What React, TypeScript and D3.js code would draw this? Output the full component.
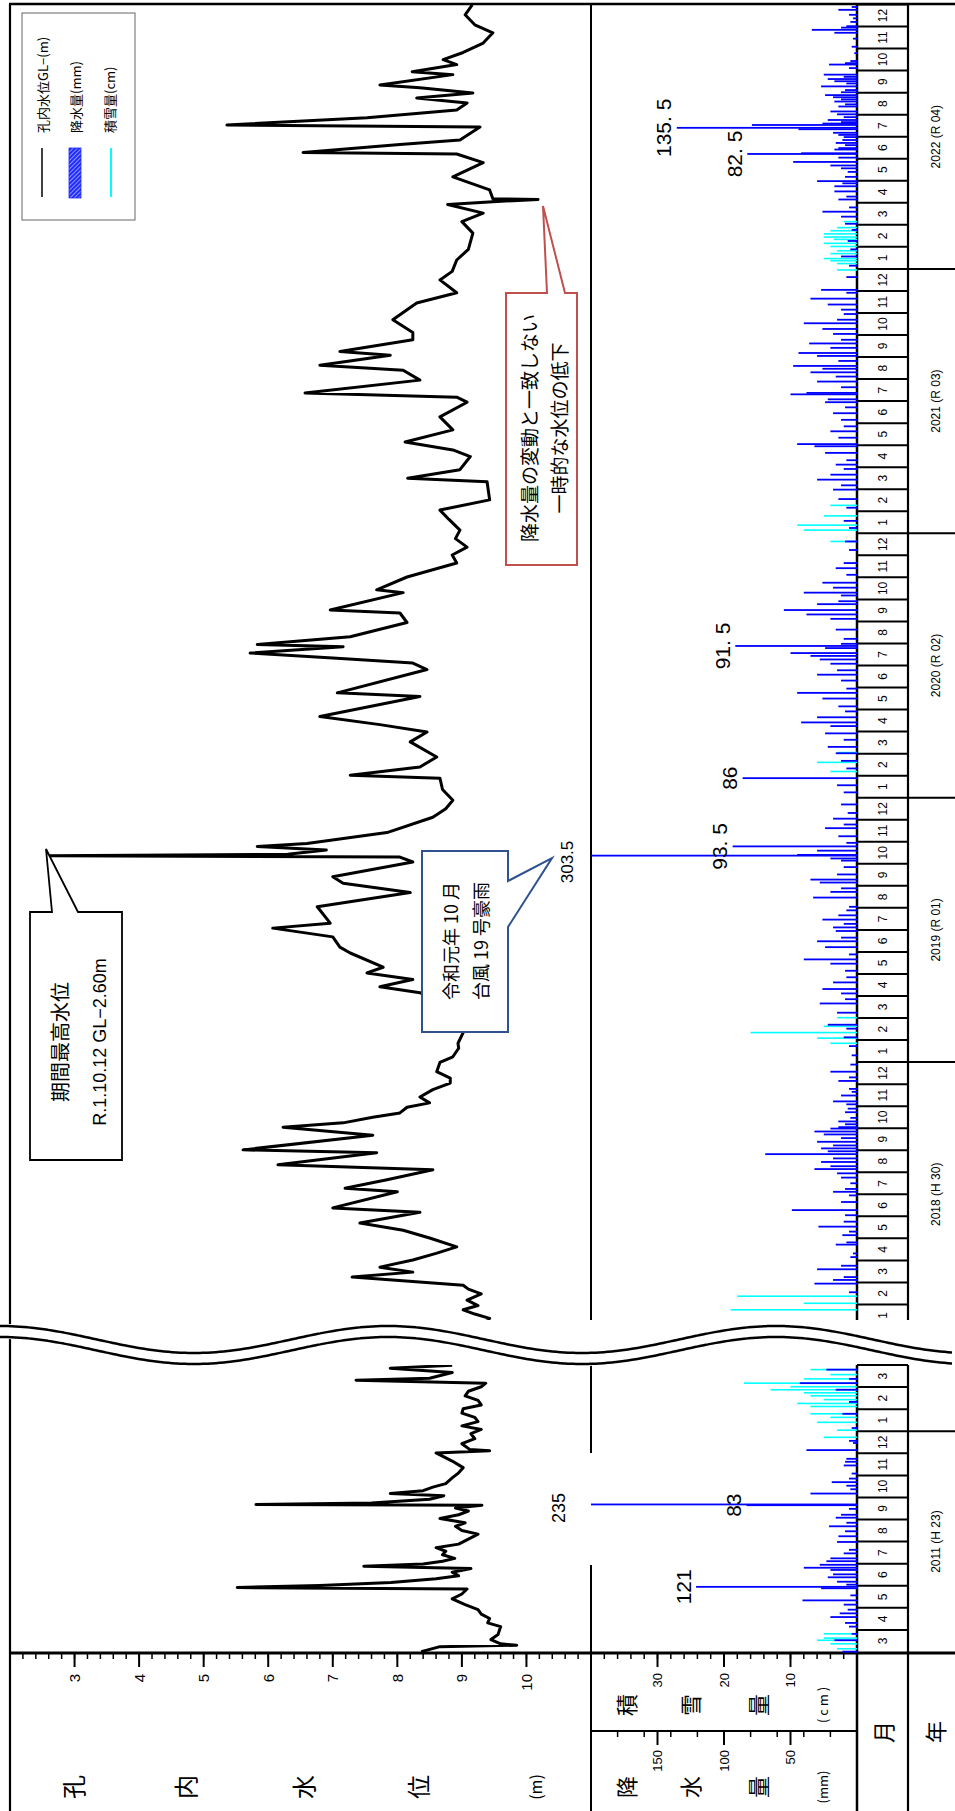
import React from 'react';
import * as d3 from 'd3';

// ---------------- DATA ----------------
// Water level in borehole, GL- (m)
const WL_LOWER: [string, number][] = [
  ["2011-03-01", 8.37], ["2011-03-08", 8.66], ["2011-03-10", 9.85], ["2011-03-12", 9.6], ["2011-03-18", 9.45],
  ["2011-03-25", 9.56], ["2011-04-05", 9.6], ["2011-04-10", 9.4], ["2011-04-16", 9.43], ["2011-04-22", 9.3],
  ["2011-04-28", 9.25], ["2011-05-05", 9.05], ["2011-05-13", 8.85], ["2011-05-20", 9.0], ["2011-05-27", 9.08],
  ["2011-05-29", 5.52], ["2011-06-01", 6.8], ["2011-06-05", 7.9], ["2011-06-10", 8.6], ["2011-06-14", 8.95],
  ["2011-06-19", 8.85], ["2011-06-24", 9.14], ["2011-06-27", 7.48], ["2011-06-30", 8.4], ["2011-07-04", 8.7],
  ["2011-07-08", 8.89], ["2011-07-13", 8.7], ["2011-07-18", 8.75], ["2011-07-23", 8.6], ["2011-07-28", 8.95],
  ["2011-08-04", 9.1], ["2011-08-11", 9.25], ["2011-08-16", 9.0], ["2011-08-22", 8.9], ["2011-08-27", 9.05],
  ["2011-09-02", 8.66], ["2011-09-07", 8.95], ["2011-09-12", 9.1], ["2011-09-16", 8.9], ["2011-09-20", 9.31],
  ["2011-09-21", 5.81], ["2011-09-23", 7.6], ["2011-09-28", 8.5], ["2011-10-03", 8.72], ["2011-10-06", 7.89],
  ["2011-10-10", 8.4], ["2011-10-15", 8.55], ["2011-10-20", 8.75], ["2011-10-28", 8.85], ["2011-11-04", 8.95],
  ["2011-11-11", 9.02], ["2011-11-20", 8.85], ["2011-12-01", 8.6], ["2011-12-04", 9.43], ["2011-12-06", 9.12],
  ["2011-12-14", 9.0], ["2011-12-21", 9.2], ["2011-12-28", 9.14], ["2012-01-03", 9.3], ["2012-01-08", 9.0],
  ["2012-01-14", 9.25], ["2012-01-20", 9.2], ["2012-01-26", 9.0], ["2012-02-01", 9.02], ["2012-02-06", 9.3],
  ["2012-02-12", 9.25], ["2012-02-18", 9.05], ["2012-02-24", 9.1], ["2012-03-01", 9.3], ["2012-03-06", 9.37],
  ["2012-03-10", 7.36], ["2012-03-13", 8.5], ["2012-03-21", 8.85], ["2012-03-27", 7.89], ["2012-03-31", 8.85]
];

const WL_UPPER: [string, number][] = [
  ["2018-01-01", 9.3], ["2018-01-12", 9.43], ["2018-01-18", 9.2], ["2018-01-24", 9.02], ["2018-01-30", 9.25],
  ["2018-02-06", 9.08], ["2018-02-14", 9.3], ["2018-02-20", 9.1], ["2018-02-25", 9.02], ["2018-03-08", 7.30],
  ["2018-03-15", 8.24], ["2018-03-22", 7.73], ["2018-04-01", 8.24], ["2018-04-10", 8.6], ["2018-04-19", 8.92],
  ["2018-05-01", 8.5], ["2018-05-12", 8.09], ["2018-05-22", 7.42], ["2018-06-06", 8.35], ["2018-06-12", 7.0],
  ["2018-07-04", 8.0], ["2018-07-09", 7.19], ["2018-07-21", 7.84], ["2018-08-04", 8.55], ["2018-08-11", 6.15],
  ["2018-08-28", 7.68], ["2018-09-01", 5.61], ["2018-09-21", 7.62], ["2018-10-02", 6.23], ["2018-10-08", 7.16],
  ["2018-10-16", 7.62], ["2018-10-22", 8.04], ["2018-10-30", 8.15], ["2018-11-05", 8.5], ["2018-11-13", 8.35],
  ["2018-11-23", 8.55], ["2018-12-02", 8.82], ["2018-12-09", 8.82], ["2018-12-18", 8.61], ["2018-12-31", 8.66],
  ["2019-01-08", 8.86], ["2019-01-20", 8.95], ["2019-01-27", 8.94], ["2019-02-10", 9.02], ["2019-03-12", 8.9],
  ["2019-04-05", 8.35], ["2019-04-13", 7.73], ["2019-04-23", 8.24], ["2019-05-02", 7.53], ["2019-05-10", 7.78],
  ["2019-05-30", 7.27], ["2019-06-07", 7.11], ["2019-06-21", 7.0], ["2019-07-03", 6.07], ["2019-07-10", 6.96],
  ["2019-08-02", 6.76], ["2019-08-22", 8.2], ["2019-09-04", 7.16], ["2019-09-13", 7.0], ["2019-10-03", 8.24],
  ["2019-10-10", 8.04], ["2019-10-12", 2.60], ["2019-10-14", 6.3], ["2019-10-20", 6.9], ["2019-10-25", 5.83],
  ["2019-10-29", 6.6], ["2019-11-13", 7.84], ["2019-12-04", 8.55], ["2019-12-16", 8.75], ["2019-12-28", 8.86],
  ["2020-01-12", 8.7], ["2020-01-28", 8.66], ["2020-02-01", 7.27], ["2020-02-12", 8.35], ["2020-02-25", 8.61],
  ["2020-03-17", 8.2], ["2020-03-31", 8.46], ["2020-04-10", 7.73], ["2020-04-21", 6.8], ["2020-05-19", 8.35],
  ["2020-05-24", 7.07], ["2020-06-25", 8.46], ["2020-07-04", 8.24], ["2020-07-11", 7.0], ["2020-07-18", 5.72],
  ["2020-07-27", 7.16], ["2020-07-30", 5.83], ["2020-08-10", 7.27], ["2020-08-30", 8.15], ["2020-09-12", 8.04],
  ["2020-09-16", 6.96], ["2020-10-10", 8.09], ["2020-10-14", 7.68], ["2020-11-01", 8.15], ["2020-11-20", 8.92],
  ["2020-12-01", 8.85], ["2020-12-12", 9.08], ["2020-12-24", 8.9], ["2021-01-05", 8.97], ["2021-01-20", 8.8],
  ["2021-02-02", 8.66], ["2021-02-15", 9.43], ["2021-03-11", 9.39], ["2021-03-16", 8.16], ["2021-03-28", 8.97],
  ["2021-04-15", 9.13], ["2021-04-24", 8.86], ["2021-05-05", 8.12], ["2021-05-22", 8.86], ["2021-06-09", 8.66],
  ["2021-06-29", 9.08], ["2021-07-06", 8.92], ["2021-07-12", 6.57], ["2021-07-30", 8.35], ["2021-08-13", 8.09],
  ["2021-08-20", 6.8], ["2021-09-03", 7.89], ["2021-09-08", 7.11], ["2021-09-24", 8.24], ["2021-10-04", 8.24],
  ["2021-10-22", 7.93], ["2021-11-14", 8.3], ["2021-11-28", 8.92], ["2021-12-16", 8.66], ["2021-12-28", 8.85],
  ["2022-01-13", 8.92], ["2022-01-28", 9.1], ["2022-02-18", 9.17], ["2022-03-05", 9.0], ["2022-03-17", 9.33],
  ["2022-03-29", 8.78], ["2022-04-02", 9.48], ["2022-04-05", 10.18], ["2022-04-06", 9.48], ["2022-04-18", 9.43],
  ["2022-05-06", 8.86], ["2022-05-26", 9.33], ["2022-06-07", 8.92], ["2022-06-09", 6.54], ["2022-06-20", 8.04],
  ["2022-06-26", 8.97], ["2022-07-14", 9.28], ["2022-07-17", 5.36], ["2022-07-27", 7.53], ["2022-08-07", 8.92],
  ["2022-08-17", 9.08], ["2022-08-24", 8.3], ["2022-08-31", 9.17], ["2022-09-07", 8.35], ["2022-09-11", 7.73],
  ["2022-09-25", 8.86], ["2022-09-29", 8.23], ["2022-10-09", 8.92], ["2022-10-16", 8.71], ["2022-10-26", 9.02],
  ["2022-11-08", 9.33], ["2022-11-22", 9.48], ["2022-12-03", 9.2], ["2022-12-17", 9.05], ["2022-12-31", 9.16]
];

// Daily precipitation (mm)
const RAIN: [string, number][] = [
  // 2011 - 2012
  ["2011-03-01", 11], ["2011-03-17", 17], ["2011-03-26", 4], ["2011-04-05", 6], ["2011-04-10", 9], ["2011-04-18", 20],
  ["2011-04-23", 13], ["2011-04-28", 7], ["2011-05-05", 10], ["2011-05-11", 41], ["2011-05-18", 5], ["2011-05-28", 27],
  ["2011-05-30", 121], ["2011-06-02", 8], ["2011-06-06", 15], ["2011-06-12", 22], ["2011-06-16", 18], ["2011-06-22", 20],
  ["2011-06-25", 40], ["2011-06-29", 28], ["2011-07-04", 23], ["2011-07-08", 20], ["2011-07-15", 10], ["2011-07-20", 6],
  ["2011-07-31", 15], ["2011-08-08", 14], ["2011-08-15", 9], ["2011-08-22", 21], ["2011-08-27", 8], ["2011-09-03", 16],
  ["2011-09-07", 12], ["2011-09-15", 6], ["2011-09-20", 83], ["2011-09-21", 235], ["2011-10-06", 35], ["2011-10-12", 5],
  ["2011-10-17", 8], ["2011-10-22", 19], ["2011-10-27", 6], ["2011-11-03", 4], ["2011-11-14", 10], ["2011-11-19", 9],
  ["2011-11-23", 8], ["2011-12-05", 38], ["2011-12-15", 3], ["2011-12-18", 6], ["2012-01-05", 4], ["2012-01-25", 11],
  ["2012-02-10", 6], ["2012-02-26", 16], ["2012-03-06", 43], ["2012-03-12", 6], ["2012-03-25", 23],
  // 2018
  ["2018-01-08", 4], ["2018-02-16", 6], ["2018-02-27", 32], ["2018-03-04", 18], ["2018-03-08", 10], ["2018-03-19", 30],
  ["2018-03-24", 12], ["2018-04-05", 5], ["2018-04-10", 3], ["2018-04-22", 16], ["2018-04-25", 8], ["2018-05-05", 11],
  ["2018-05-10", 6], ["2018-05-17", 29], ["2018-05-24", 10], ["2018-06-02", 9], ["2018-06-09", 49], ["2018-06-20", 12],
  ["2018-06-29", 6], ["2018-07-04", 18], ["2018-07-08", 9], ["2018-07-16", 5], ["2018-07-24", 12], ["2018-07-30", 15],
  ["2018-08-05", 32], ["2018-08-09", 20], ["2018-08-15", 27], ["2018-08-20", 18], ["2018-08-26", 69], ["2018-08-30", 22],
  ["2018-09-03", 27], ["2018-09-07", 18], ["2018-09-12", 30], ["2018-09-17", 12], ["2018-09-22", 25], ["2018-09-26", 32],
  ["2018-09-30", 20], ["2018-10-02", 14], ["2018-10-06", 9], ["2018-10-10", 14], ["2018-10-15", 5], ["2018-10-23", 9],
  ["2018-10-28", 7], ["2018-11-03", 8], ["2018-11-07", 18], ["2018-11-15", 12], ["2018-11-20", 4], ["2018-11-24", 6],
  ["2018-12-05", 14], ["2018-12-10", 6], ["2018-12-18", 20], ["2018-12-28", 5],
  // 2019
  ["2019-01-10", 4], ["2019-01-23", 6], ["2019-02-04", 10], ["2019-02-15", 8], ["2019-02-20", 22], ["2019-03-08", 15],
  ["2019-03-21", 28], ["2019-03-27", 9], ["2019-04-04", 12], ["2019-04-10", 26], ["2019-04-19", 18], ["2019-04-26", 8],
  ["2019-05-05", 9], ["2019-05-15", 20], ["2019-05-21", 40], ["2019-05-28", 6], ["2019-06-07", 24], ["2019-06-15", 30],
  ["2019-06-20", 12], ["2019-06-29", 16], ["2019-07-04", 18], ["2019-07-09", 10], ["2019-07-15", 26], ["2019-07-21", 14],
  ["2019-07-28", 8], ["2019-08-02", 6], ["2019-08-15", 33], ["2019-08-23", 20], ["2019-08-28", 12], ["2019-09-05", 28],
  ["2019-09-09", 35], ["2019-09-16", 15], ["2019-09-26", 10], ["2019-10-05", 12], ["2019-10-08", 20], ["2019-10-12", 303.5],
  ["2019-10-13", 45], ["2019-10-19", 30], ["2019-10-25", 93.5], ["2019-10-30", 8], ["2019-11-08", 14], ["2019-11-19", 24],
  ["2019-11-24", 10], ["2019-12-02", 18], ["2019-12-10", 7], ["2019-12-22", 12],
  // 2020
  ["2020-01-08", 10], ["2020-01-18", 15], ["2020-01-28", 86], ["2020-02-10", 8], ["2020-02-20", 12], ["2020-03-01", 16],
  ["2020-03-10", 22], ["2020-03-20", 10], ["2020-03-29", 24], ["2020-04-08", 20], ["2020-04-13", 42], ["2020-04-20", 30],
  ["2020-04-28", 9], ["2020-05-05", 14], ["2020-05-16", 26], ["2020-05-24", 45], ["2020-05-30", 8], ["2020-06-10", 12],
  ["2020-06-18", 30], ["2020-06-24", 15], ["2020-07-03", 20], ["2020-07-09", 28], ["2020-07-14", 35], ["2020-07-18", 50],
  ["2020-07-25", 24], ["2020-07-28", 91.5], ["2020-07-31", 12], ["2020-08-07", 10], ["2020-08-20", 16], ["2020-09-04", 20],
  ["2020-09-10", 38], ["2020-09-16", 55], ["2020-09-24", 30], ["2020-09-28", 14], ["2020-10-06", 12], ["2020-10-10", 40],
  ["2020-10-17", 18], ["2020-10-24", 26], ["2020-11-04", 8], ["2020-11-13", 16], ["2020-11-20", 10], ["2020-12-08", 6],
  ["2020-12-20", 9],
  // 2021
  ["2021-01-08", 6], ["2021-01-18", 10], ["2021-02-05", 8], ["2021-02-16", 14], ["2021-02-28", 18], ["2021-03-06", 12],
  ["2021-03-14", 30], ["2021-03-21", 20], ["2021-03-29", 10], ["2021-04-04", 16], ["2021-04-10", 8], ["2021-04-20", 24],
  ["2021-04-29", 32], ["2021-05-02", 45], ["2021-05-11", 14], ["2021-05-20", 20], ["2021-05-27", 10], ["2021-06-05", 12],
  ["2021-06-14", 18], ["2021-06-22", 9], ["2021-06-29", 24], ["2021-07-03", 22], ["2021-07-10", 50], ["2021-07-12", 38],
  ["2021-07-20", 12], ["2021-07-28", 30], ["2021-08-04", 16], ["2021-08-10", 35], ["2021-08-15", 26], ["2021-08-19", 48],
  ["2021-08-26", 14], ["2021-09-02", 30], ["2021-09-06", 44], ["2021-09-13", 20], ["2021-09-19", 36], ["2021-09-24", 12],
  ["2021-10-02", 18], ["2021-10-09", 26], ["2021-10-17", 40], ["2021-10-22", 15], ["2021-10-30", 10], ["2021-11-05", 12],
  ["2021-11-12", 22], ["2021-11-20", 35], ["2021-11-28", 8], ["2021-12-02", 27], ["2021-12-20", 8],
  // 2022
  ["2022-01-05", 6], ["2022-01-18", 12], ["2022-01-28", 5], ["2022-02-08", 7], ["2022-02-22", 4], ["2022-03-02", 9],
  ["2022-03-12", 12], ["2022-03-19", 26], ["2022-03-25", 6], ["2022-04-05", 14], ["2022-04-09", 8], ["2022-04-16", 17],
  ["2022-04-23", 17], ["2022-04-27", 11], ["2022-04-30", 30], ["2022-05-06", 9], ["2022-05-13", 7], ["2022-05-18", 12],
  ["2022-05-22", 20], ["2022-05-27", 48], ["2022-06-02", 14], ["2022-06-07", 82.5], ["2022-06-08", 42], ["2022-06-13", 17],
  ["2022-06-15", 14], ["2022-06-19", 9], ["2022-06-22", 16], ["2022-06-26", 11], ["2022-06-30", 10], ["2022-07-03", 14],
  ["2022-07-06", 18], ["2022-07-11", 44], ["2022-07-13", 135.5], ["2022-07-17", 79], ["2022-07-19", 26], ["2022-07-21", 12],
  ["2022-07-24", 22], ["2022-07-28", 10], ["2022-08-01", 15], ["2022-08-05", 20], ["2022-08-12", 14], ["2022-08-15", 9],
  ["2022-08-19", 17], ["2022-08-22", 12], ["2022-08-25", 18], ["2022-08-28", 24], ["2022-09-01", 12], ["2022-09-04", 9],
  ["2022-09-09", 27], ["2022-09-13", 8], ["2022-09-16", 17], ["2022-09-19", 22], ["2022-09-22", 10], ["2022-09-25", 25],
  ["2022-10-04", 6], ["2022-10-09", 21], ["2022-10-11", 9], ["2022-10-14", 5], ["2022-10-25", 2], ["2022-11-03", 4],
  ["2022-11-14", 3], ["2022-11-22", 17], ["2022-11-26", 34], ["2022-11-29", 12], ["2022-12-01", 8], ["2022-12-07", 5],
  ["2022-12-12", 3], ["2022-12-17", 6], ["2022-12-24", 14], ["2022-12-28", 4]
];

// Snow depth (cm)
const SNOW: [string, number][] = [
  ["2011-03-05", 3], ["2011-03-12", 4], ["2011-03-17", 6], ["2011-03-20", 5], ["2011-03-26", 5],
  ["2011-12-23", 5], ["2012-01-02", 3], ["2012-01-13", 6], ["2012-01-20", 4], ["2012-01-25", 7], ["2012-02-04", 7],
  ["2012-02-08", 9], ["2012-02-13", 5], ["2012-02-18", 7], ["2012-02-22", 8], ["2012-02-26", 13], ["2012-03-01", 10],
  ["2012-03-06", 17], ["2012-03-12", 8], ["2012-03-18", 4], ["2012-03-25", 7],
  ["2018-01-24", 19], ["2018-02-02", 8], ["2018-02-11", 18],
  ["2019-01-27", 4], ["2019-02-03", 6], ["2019-02-10", 16], ["2019-02-18", 5], ["2019-03-01", 3],
  ["2020-02-06", 4], ["2020-02-18", 6], ["2020-03-02", 3],
  ["2020-12-20", 4], ["2021-01-05", 8], ["2021-01-12", 9], ["2021-01-25", 5], ["2021-02-08", 4],
  ["2021-12-30", 3], ["2022-01-08", 3], ["2022-01-12", 4], ["2022-01-15", 5], ["2022-01-22", 4], ["2022-01-26", 3],
  ["2022-02-01", 4], ["2022-02-05", 5], ["2022-02-10", 3.5], ["2022-02-13", 5], ["2022-02-17", 5], ["2022-02-21", 4],
  ["2022-02-25", 3], ["2022-03-05", 2]
];

const LEVEL_TICKS = [3, 4, 5, 6, 7, 8, 9, 10];
const SNOW_TICKS = [10, 20, 30];
const RAIN_TICKS = [50, 100, 150];
const YEAR_LABELS: [number, string][] = [
  [2011, "2011 (H 23)"], [2018, "2018 (H 30)"], [2019, "2019 (R 01)"],
  [2020, "2020 (R 02)"], [2021, "2021 (R 03)"], [2022, "2022 (R 04)"]
];
const BAR_LABELS: [string, number, string][] = [
  ["2011-05-30", 121, "121"], ["2011-09-20", 83, "83"], ["2019-10-25", 93.5, "93. 5"],
  ["2020-01-28", 86, "86"], ["2020-07-28", 91.5, "91. 5"], ["2022-06-07", 82.5, "82. 5"], ["2022-07-13", 135.5, "135. 5"]
];

// ---------------- SCALES ----------------
const W = 955, H = 1811;
const xLevel = d3.scaleLinear().domain([2, 11]).range([10, 591]);
const xRain = d3.scaleLinear().domain([0, 200]).range([857, 591]).clamp(true);
const xSnow = d3.scaleLinear().domain([0, 40]).range([857, 591]).clamp(true);
const yUp = d3.scaleLinear().domain([0, 60]).range([1326.5, 4.5]);
const yLo = d3.scaleLinear().domain([0, 13]).range([1652, 1365]);

function parse(s: string) {
  const [y, m, d] = s.split('-').map(Number);
  return { y, m, d };
}
function monthIdx(y: number, m: number, d: number, y0: number, m0: number) {
  const dim = new Date(y, m, 0).getDate();
  return (y - y0) * 12 + (m - m0) + (d - 0.5) / dim;
}
function yOf(s: string) {
  const { y, m, d } = parse(s);
  if (y >= 2018) return yUp(monthIdx(y, m, d, 2018, 1));
  return yLo(monthIdx(y, m, d, 2011, 3));
}

const JP = "'Noto Sans CJK JP', 'Noto Sans', sans-serif";
const NUM = "'Liberation Sans', Arial, sans-serif";
const NARROW = "'Liberation Sans Narrow', 'Liberation Sans', Arial, sans-serif";

const RT = ({ x, y, size, anchor = 'middle', family = JP, fill = '#000', children, weight }: any) => (
  <text transform={`translate(${x},${y}) rotate(-90)`} textAnchor={anchor} dominantBaseline="central"
    fontSize={size} fontFamily={family} fill={fill} fontWeight={weight}>{children}</text>
);

export default function App() {
  const line = d3.line<[string, number]>().x(d => xLevel(d[1])).y(d => yOf(d[0]));

  const upMonths = d3.range(60).map(k => ({ k, m: (k % 12) + 1, top: yUp(k + 1), bot: yUp(k) }));
  const loMonths = d3.range(13).map(k => ({ k, m: ((k + 2) % 12) + 1, top: yLo(k + 1), bot: yLo(k) }));

  const waveY = (x: number, off: number) => 1339.5 + off - 13.5 * Math.cos((2 * Math.PI * (x - 388)) / 388);
  const xs = d3.range(0, 956, 4);
  const waveLine = d3.line<number>().x(x => x).y(x => waveY(x, 0)).curve(d3.curveBasis);
  const waveLine2 = d3.line<number>().x(x => x).y(x => waveY(x, 11)).curve(d3.curveBasis);
  const wavePoly = xs.map(x => [x, waveY(x, -2)]).concat(xs.slice().reverse().map(x => [x, waveY(x, 13)]));

  const levelMinor = d3.range(2, 11.001, 0.2);
  const snowMinor = d3.range(0, 40.001, 2);
  const rainMinor = d3.range(0, 200.001, 20);

  const yearCenter = (yr: number) => yr === 2011 ? (yLo(0) + yLo(10)) / 2 : (yUp((yr - 2018) * 12) + yUp((yr - 2018) * 12 + 12)) / 2;
  const up = (s: string) => parse(s).y >= 2018;

  return (
    <svg width={W} height={H} style={{ position: 'absolute', left: 0, top: 0, background: '#fff' }}
      xmlns="http://www.w3.org/2000/svg">
      <defs>
        <clipPath id="clipUpL"><rect x={10} y={4} width={581} height={1316} /></clipPath>
        <clipPath id="clipLoL"><rect x={10} y={1365} width={581} height={288} /></clipPath>
        <clipPath id="clipUpR"><rect x={591} y={4} width={266} height={1316} /></clipPath>
        <clipPath id="clipLoR"><rect x={591} y={1365} width={266} height={288} /></clipPath>
        <pattern id="hatch" width="3" height="3" patternUnits="userSpaceOnUse" patternTransform="rotate(45)">
          <rect width="3" height="3" fill="#1f2bff" />
          <line x1="0" y1="0" x2="0" y2="3" stroke="#fff" strokeWidth="1" />
        </pattern>
      </defs>
      <rect x={0} y={0} width={W} height={H} fill="#fff" />

      {/* frame lines */}
      <g stroke="#000" fill="none">
        <line x1={9} y1={4} x2={955} y2={4} strokeWidth={2.5} />
        <line x1={10} y1={4} x2={10} y2={1327} strokeWidth={2.2} />
        <line x1={10} y1={1336} x2={10} y2={1811} strokeWidth={2.2} />
        <line x1={591} y1={4} x2={591} y2={1320} strokeWidth={2} />
        <line x1={591} y1={1365} x2={591} y2={1811} strokeWidth={2} />
        <line x1={857} y1={4} x2={857} y2={1320} strokeWidth={2.5} />
        <line x1={857} y1={1365} x2={857} y2={1811} strokeWidth={2.5} />
        <line x1={908} y1={4} x2={908} y2={1320} strokeWidth={2.2} />
        <line x1={908} y1={1365} x2={908} y2={1811} strokeWidth={2.2} />
        <line x1={9} y1={1653} x2={955} y2={1653} strokeWidth={2.8} />
        <line x1={591} y1={1731} x2={857} y2={1731} strokeWidth={2.2} />
        {upMonths.map(d => <line key={'um' + d.k} x1={857} x2={908} y1={d.top} y2={d.top} strokeWidth={2} />)}
        {loMonths.map(d => <line key={'lm' + d.k} x1={857} x2={908} y1={d.top} y2={d.top} strokeWidth={2} />)}
        {[1, 2, 3, 4].map(k => <line key={'yl' + k} x1={908} x2={955} y1={yUp(k * 12)} y2={yUp(k * 12)} strokeWidth={2} />)}
        <line x1={908} x2={955} y1={yLo(10)} y2={yLo(10)} strokeWidth={2} />
      </g>

      {/* white label box for 235 */}
      <rect x={535} y={1453} width={58} height={112} fill="#fff" />

      {/* snow */}
      <g fill="#00ffff">
        {SNOW.map((d, i) => {
          const y = yOf(d[0]);
          return <rect key={'s' + i} x={xSnow(d[1])} y={y - 0.8} width={857 - xSnow(d[1])} height={1.6}
            clipPath={up(d[0]) ? 'url(#clipUpR)' : 'url(#clipLoR)'} />;
        })}
      </g>
      {/* rain */}
      <g fill="#0000ff">
        {RAIN.map((d, i) => {
          const y = yOf(d[0]);
          return <rect key={'r' + i} x={xRain(d[1])} y={y - 0.9} width={857 - xRain(d[1])} height={1.8}
            clipPath={up(d[0]) ? 'url(#clipUpR)' : 'url(#clipLoR)'} />;
        })}
      </g>

      {/* water level */}
      <g fill="none" stroke="#000" strokeWidth={3} strokeLinejoin="round">
        <path d={line(WL_UPPER) || ''} clipPath="url(#clipUpL)" />
        <path d={line(WL_LOWER) || ''} clipPath="url(#clipLoL)" />
      </g>

      {/* bar value labels */}
      {BAR_LABELS.map((b, i) => (
        <RT key={'bl' + i} x={xRain(b[1]) - 13} y={yOf(b[0])} size={21} family={NARROW}>{b[2]}</RT>
      ))}
      <RT x={559} y={1508} size={18} family={NUM}>235</RT>
      <RT x={567} y={862} size={17} family={NUM}>303.5</RT>

      {/* legend */}
      <rect x={22} y={13} width={113} height={207} fill="#fff" stroke="#666" strokeWidth={1} />
      <line x1={42} x2={42} y1={148} y2={197} stroke="#000" strokeWidth={1.5} />
      <rect x={69} y={148} width={12} height={50} fill="url(#hatch)" stroke="#1f2bff" strokeWidth={0.8} />
      <line x1={111} x2={111} y1={148} y2={197} stroke="#00ffff" strokeWidth={2} />
      <RT x={42} y={133} size={13} anchor="start">孔内水位GL−(m)</RT>
      <RT x={75} y={133} size={13} anchor="start">降水量(mm)</RT>
      <RT x={109} y={133} size={13} anchor="start">積雪量(cm)</RT>

      {/* annotation: max level */}
      <path d="M30,912 L52,912 L46,849 L78,912 L122,912 L122,1160 L30,1160 Z" fill="#fff" stroke="#000" strokeWidth={1.8} />
      <RT x={59} y={1042} size={20}>期間最高水位</RT>
      <RT x={100} y={1042} size={18} family={NUM}>R.1.10.12 GL−2.60m</RT>

      {/* annotation: typhoon */}
      <path d="M422,851 L508,851 L508,881 L552,858 L508,927 L508,1032 L422,1032 Z" fill="#fff" stroke="#2f528f" strokeWidth={2} />
      <RT x={450} y={941} size={18}>令和元年 10 月</RT>
      <RT x={480} y={941} size={18}>台風 19 号豪雨</RT>

      {/* annotation: temporary drop */}
      <path d="M506,293 L547,293 L543,206 L565,293 L577,293 L577,565 L506,565 Z" fill="#fff" stroke="#c0504d" strokeWidth={2} />
      <RT x={528} y={428} size={19}>降水量の変動と一致しない</RT>
      <RT x={558} y={428} size={19}>一時的な水位の低下</RT>

      {/* month / year labels */}
      {upMonths.map(d => {
        const c = (d.top + d.bot) / 2;
        return c < 1318 ? <RT key={'uml' + d.k} x={883} y={c} size={12} family={NUM}>{d.m}</RT> : null;
      })}
      {loMonths.map(d => <RT key={'lml' + d.k} x={883} y={(d.top + d.bot) / 2} size={12} family={NUM}>{d.m}</RT>)}
      {YEAR_LABELS.map(([yr, lab]) => <RT key={'yr' + yr} x={936} y={yearCenter(yr)} size={12} family={NUM}>{lab}</RT>)}

      {/* axes ticks */}
      <g stroke="#000" strokeWidth={1.5}>
        {levelMinor.map((v, i) => <line key={'lt' + i} x1={xLevel(v)} x2={xLevel(v)} y1={1653} y2={1659} />)}
        {LEVEL_TICKS.map(v => <line key={'LT' + v} x1={xLevel(v)} x2={xLevel(v)} y1={1653} y2={1667} strokeWidth={2} />)}
        {snowMinor.map((v, i) => <line key={'st' + i} x1={xSnow(v)} x2={xSnow(v)} y1={1653} y2={1659} />)}
        {SNOW_TICKS.map(v => <line key={'ST' + v} x1={xSnow(v)} x2={xSnow(v)} y1={1653} y2={1667} strokeWidth={2} />)}
        {rainMinor.map((v, i) => <line key={'rt' + i} x1={xRain(v)} x2={xRain(v)} y1={1731} y2={1737} />)}
        {RAIN_TICKS.map(v => <line key={'RT' + v} x1={xRain(v)} x2={xRain(v)} y1={1731} y2={1745} strokeWidth={2} />)}
      </g>
      {LEVEL_TICKS.map(v => <RT key={'ll' + v} x={xLevel(v)} y={1674} size={15} family={NUM} anchor="end">{v}</RT>)}
      {SNOW_TICKS.map(v => <RT key={'sl' + v} x={xSnow(v)} y={1673} size={13} family={NUM} anchor="end">{v}</RT>)}
      {RAIN_TICKS.map(v => <RT key={'rl' + v} x={xRain(v)} y={1750} size={13} family={NUM} anchor="end">{v}</RT>)}

      {/* axis titles */}
      {[['孔', 72], ['内', 184], ['水', 302], ['位', 417]].map(([c, x]) => <RT key={'t' + c} x={x} y={1787} size={24}>{c}</RT>)}
      <RT x={535} y={1787} size={16}>(m)</RT>
      {[['積', 625], ['雪', 689], ['量', 757]].map(([c, x]) => <RT key={'s' + c} x={x} y={1705} size={22}>{c}</RT>)}
      <RT x={822} y={1705} size={13}>( c m )</RT>
      {[['降', 625], ['水', 689], ['量', 757]].map(([c, x]) => <RT key={'p' + c} x={x} y={1787} size={22}>{c}</RT>)}
      <RT x={822} y={1787} size={13}>(mm)</RT>
      <RT x={882} y={1732} size={22}>月</RT>
      <RT x={934} y={1732} size={22}>年</RT>

      {/* break */}
      <polygon points={wavePoly.map(p => p.join(',')).join(' ')} fill="#fff" />
      <path d={waveLine(xs) || ''} fill="none" stroke="#000" strokeWidth={2.5} />
      <path d={waveLine2(xs) || ''} fill="none" stroke="#000" strokeWidth={2.5} />
    </svg>
  );
}
